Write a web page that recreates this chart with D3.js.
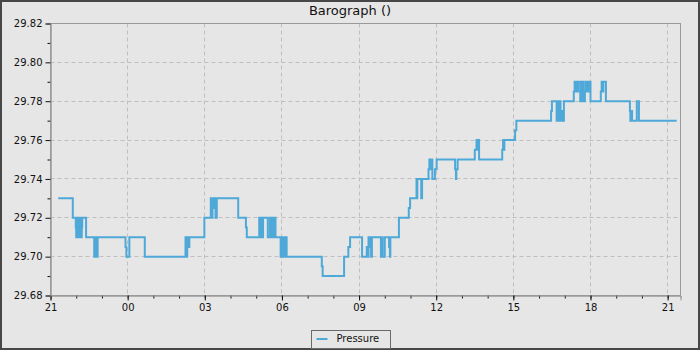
<!DOCTYPE html>
<html>
<head>
<meta charset="utf-8">
<script src="https://cdn.jsdelivr.net/npm/d3@7"></script>
<style>
body { margin:0; background:#e6e6e6; }
svg { display:block; font-family:"DejaVu Sans", sans-serif; }
</style>
</head>
<body>
<svg id="baro"></svg>
<script>
// readings, time of day (rolls over midnight) and pressure in inHg
var times = ["21:18","21:52","21:59","22:00","22:03","22:05","22:08","22:10","22:13","22:14",
    "22:23","22:42","22:45","22:46","22:50","23:55","23:57","00:04","00:40","02:15",
    "02:17","02:19","02:21","02:24","02:59","03:14","03:16","03:18","03:21","03:23",
    "03:25","03:28","04:18","04:36","04:38","05:07","05:09","05:11","05:13","05:16",
    "05:27","05:32","05:34","05:36","05:38","05:42","05:45","05:57","05:59","06:01",
    "06:03","06:05","06:07","06:11","07:33","07:35","08:25","08:35","08:39","09:07",
    "09:18","09:20","09:22","09:24","09:26","09:28","09:30","09:51","09:53","09:55",
    "10:00","10:10","10:12","10:13","10:33","10:56","10:59","11:14","11:15","11:16",
    "11:25","11:27","11:42","11:44","11:46","11:48","11:51","11:57","12:01","12:44",
    "12:46","12:47","12:50","13:30","13:34","13:36","13:38","13:40","14:34","14:36",
    "14:37","14:39","15:04","15:07","16:28","16:30","16:41","16:43","16:45","16:48",
    "16:50","16:52","16:54","16:58","17:21","17:23","17:25","17:27","17:29","17:31",
    "17:36","17:38","17:40","17:41","17:43","17:47","17:48","17:50","17:52","17:54",
    "17:56","18:00","18:24","18:26","18:28","18:30","18:36","19:32","19:33","19:35",
    "19:37","19:48","19:53","21:21"];
var pressure = [29.73,29.72,29.715,29.71,29.72,29.71,29.72,29.71,29.715,29.72,
    29.71,29.70,29.71,29.70,29.71,29.705,29.70,29.71,29.70,29.71,
    29.70,29.71,29.705,29.71,29.72,29.73,29.72,29.73,29.725,29.73,
    29.72,29.73,29.72,29.715,29.71,29.72,29.71,29.72,29.71,29.72,
    29.71,29.72,29.71,29.72,29.71,29.72,29.71,29.70,29.71,29.70,
    29.71,29.70,29.71,29.70,29.695,29.69,29.70,29.705,29.71,29.70,
    29.705,29.70,29.71,29.705,29.71,29.70,29.71,29.70,29.71,29.70,
    29.71,29.705,29.70,29.71,29.72,29.725,29.73,29.74,29.73,29.74,
    29.73,29.74,29.745,29.75,29.745,29.75,29.74,29.745,29.75,29.745,
    29.74,29.745,29.75,29.755,29.76,29.755,29.76,29.75,29.755,29.76,
    29.755,29.76,29.765,29.77,29.775,29.78,29.77,29.78,29.77,29.78,
    29.77,29.775,29.77,29.78,29.785,29.79,29.785,29.79,29.785,29.79,
    29.78,29.79,29.78,29.79,29.78,29.785,29.79,29.785,29.79,29.785,
    29.79,29.78,29.785,29.79,29.785,29.79,29.78,29.775,29.77,29.775,
    29.77,29.78,29.77,29.77];

var yTicks = [29.68,29.70,29.72,29.74,29.76,29.78,29.80,29.82];
var yMinorTicks = [29.69,29.71,29.73,29.75,29.77,29.79,29.81];
var title = "Barograph ()";
var seriesName = "Pressure";

var screen = {width:700, height:350};
var margins = {top:23, bottom:55, left:50, right:20};
var graph = {width:screen.width-margins.left-margins.right, height:screen.height-margins.top-margins.bottom};
var lineColor = "#4ea9d9";

// turn "HH:MM" into dates, adding a day whenever the clock wraps
var start = Date.UTC(2024,0,1,21,0);
var dayOffset = 0, lastMin = -1;
var readings = times.map(function(t, i){
    var parts = t.split(":");
    var min = (+parts[0] - 21)*60 + (+parts[1]) + dayOffset;
    if (min < lastMin) { dayOffset += 1440; min += 1440; }
    lastMin = min;
    return {time:new Date(start + min*60000), value:pressure[i]};
});

var svg = d3.select("#baro")
    .attr("width", screen.width)
    .attr("height", screen.height);

//outer frame
svg.append("rect")
    .attr("x",1).attr("y",1)
    .attr("width",screen.width-2).attr("height",screen.height-2)
    .attr("fill","#e6e6e6")
    .attr("stroke","#474747")
    .attr("stroke-width",2);

var xScale = d3.scaleUtc()
    .domain([new Date(start), new Date(start + 1470*60000)])
    .range([0, graph.width]);
var yScale = d3.scaleLinear()
    .domain([29.68, 29.82])
    .range([graph.height, 0]);

var g = svg.append("g")
    .attr("transform","translate("+(margins.left+0.5)+","+(margins.top+0.5)+")");

//grid
var majorX = xScale.ticks(d3.utcHour.every(3));
g.append("g").selectAll("line")
    .data(majorX)
    .enter().append("line")
    .attr("x1", function(d){return Math.round(xScale(d));})
    .attr("x2", function(d){return Math.round(xScale(d));})
    .attr("y1", 0).attr("y2", graph.height)
    .attr("stroke","#bfbfbf")
    .attr("stroke-dasharray","4,3");
g.append("g").selectAll("line")
    .data(yTicks.slice(1, -1))
    .enter().append("line")
    .attr("x1", 0).attr("x2", graph.width)
    .attr("y1", function(d){return Math.round(yScale(d));})
    .attr("y2", function(d){return Math.round(yScale(d));})
    .attr("stroke","#bfbfbf")
    .attr("stroke-dasharray","4,3");

//the pressure trace
var linegen = d3.line()
    .curve(d3.curveStepAfter)
    .x(function(d){return xScale(d.time);})
    .y(function(d){return yScale(d.value);});
g.append("path")
    .datum(readings)
    .attr("d", linegen)
    .attr("fill","none")
    .attr("stroke", lineColor)
    .attr("stroke-width", 2);

//plot frame
g.append("rect")
    .attr("width", graph.width).attr("height", graph.height)
    .attr("fill","none")
    .attr("stroke","#9a9a9a");

//axes
var xAxis = d3.axisBottom(xScale)
    .ticks(d3.utcHour.every(3))
    .tickFormat(d3.utcFormat("%H"))
    .tickSize(5);
var xMinor = d3.axisBottom(xScale)
    .ticks(d3.utcHour.every(1))
    .tickFormat("")
    .tickSize(3);
var yAxis = d3.axisLeft(yScale)
    .tickValues(yTicks)
    .tickFormat(d3.format(".2f"))
    .tickSize(5);
var yMinor = d3.axisLeft(yScale)
    .tickValues(yMinorTicks)
    .tickFormat("")
    .tickSize(3);

var axes = g.append("g").attr("class","axes");
axes.append("g").attr("transform","translate(0,"+graph.height+")").call(xMinor);
axes.append("g").attr("transform","translate(0,"+graph.height+")").call(xAxis);
axes.append("g").call(yMinor);
axes.append("g").call(yAxis);
axes.selectAll(".domain").attr("stroke","#9a9a9a");
axes.selectAll(".tick line").attr("stroke","#111");
axes.selectAll(".tick text")
    .attr("fill","#111")
    .style("font-family","DejaVu Sans")
    .style("font-size","10px");

//title
svg.append("text")
    .text(title)
    .attr("x", screen.width/2)
    .attr("y", 15)
    .attr("text-anchor","middle")
    .style("font-size","13px")
    .attr("fill","#111");

//legend
var legend = svg.append("g")
    .attr("transform","translate(311.5,330.5)");
legend.append("rect")
    .attr("width",79).attr("height",18)
    .attr("fill","#e6e6e6")
    .attr("stroke","#6a6a6a");
legend.append("line")
    .attr("x1",5).attr("x2",16)
    .attr("y1",8.5).attr("y2",8.5)
    .attr("stroke",lineColor)
    .attr("stroke-width",2);
legend.append("text")
    .text(seriesName)
    .attr("x",25).attr("y",11)
    .style("font-size","10px")
    .attr("fill","#111");
</script>
</body>
</html>
